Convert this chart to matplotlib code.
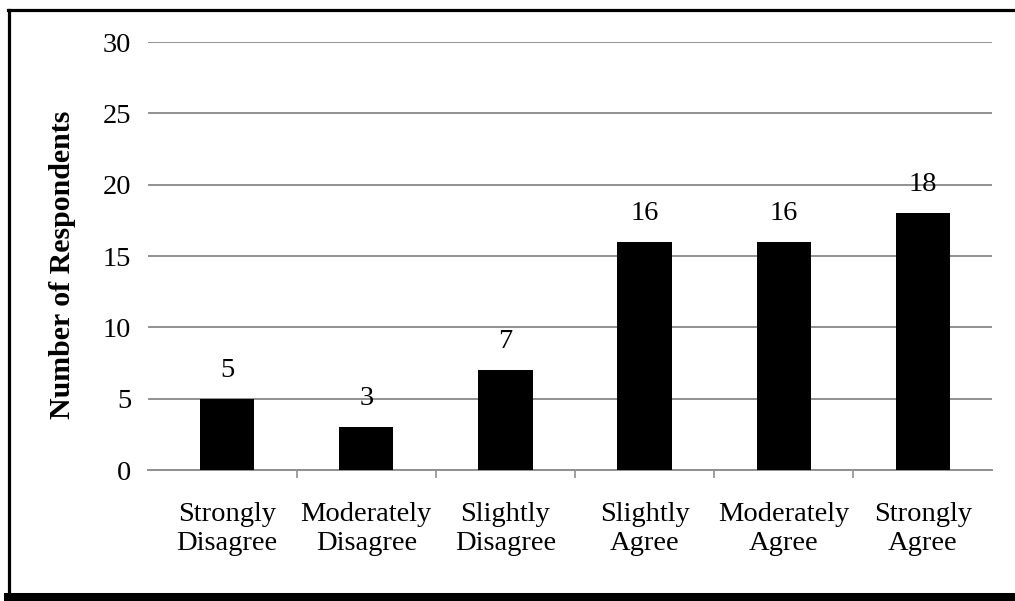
import matplotlib
matplotlib.use("Agg")
import matplotlib.pyplot as plt
from matplotlib.lines import Line2D
from matplotlib.ticker import FixedLocator

categories = ["Strongly\nDisagree", "Moderately\nDisagree", "Slightly\nDisagree",
              "Slightly\nAgree", "Moderately\nAgree", "Strongly\nAgree"]
respondents = [5, 3, 7, 16, 16, 18]
y_ticks = [0, 5, 10, 15, 20, 25, 30]

plt.rcParams['font.family'] = ['Liberation Serif', 'DejaVu Serif']

W, H = 1015, 601
fig = plt.figure(figsize=(W / 100, H / 100), dpi=100)
fig.patch.set_facecolor('white')

ax = fig.add_axes([148 / W, 1 - 470 / H, (992 - 148) / W, (470 - 42) / H])
x = list(range(len(categories)))
ax.bar(x, respondents, width=0.39, color='black', zorder=3)

# value labels above each bar
for xi, v in zip(x, respondents):
    ax.annotate(str(v), (xi, v), xytext=(0, 11.5), textcoords='offset points',
                ha='center', va='bottom', fontsize=20.5)

ax.set_xlim(-0.568, 5.496)
ax.set_ylim(0, 30)
ax.set_yticks(y_ticks)
ax.set_yticklabels([str(t) for t in y_ticks], fontsize=20.5)
ax.set_xticks(x)
ax.set_xticklabels(categories, fontsize=20.5, linespacing=1.2)
ax.xaxis.set_minor_locator(FixedLocator([i + 0.5 for i in x]))

ax.grid(axis='y', color='#909090', linewidth=1.4, zorder=0)
ax.tick_params(axis='y', length=0, pad=12)
ax.tick_params(axis='x', which='major', length=0, pad=23)
ax.tick_params(axis='x', which='minor', length=6, width=1.2, color='#909090')
for side in ['top', 'right', 'left']:
    ax.spines[side].set_visible(False)
ax.spines['bottom'].set_color('#909090')
ax.spines['bottom'].set_linewidth(1.4)
ax.set_facecolor('none')

fig.text(63 / W, 1 - 265 / H, "Number of Respondents", rotation=90,
         ha='center', va='center', fontsize=21.5, fontweight='bold')

# outer frame with shadow along the bottom
fig.add_artist(Line2D([9 / W, 9 / W], [1 - 9.5 / H, 1 - 596 / H], color='black',
                      linewidth=2.3, transform=fig.transFigure))
fig.add_artist(Line2D([8 / W, 1], [1 - 9.5 / H, 1 - 9.5 / H], color='black',
                      linewidth=2.3, transform=fig.transFigure))
fig.add_artist(Line2D([8 / W, 1], [1 - 596.5 / H, 1 - 596.5 / H], color='black',
                      linewidth=6.5, transform=fig.transFigure))

fig.savefig('out.png', dpi=100, facecolor='white')
